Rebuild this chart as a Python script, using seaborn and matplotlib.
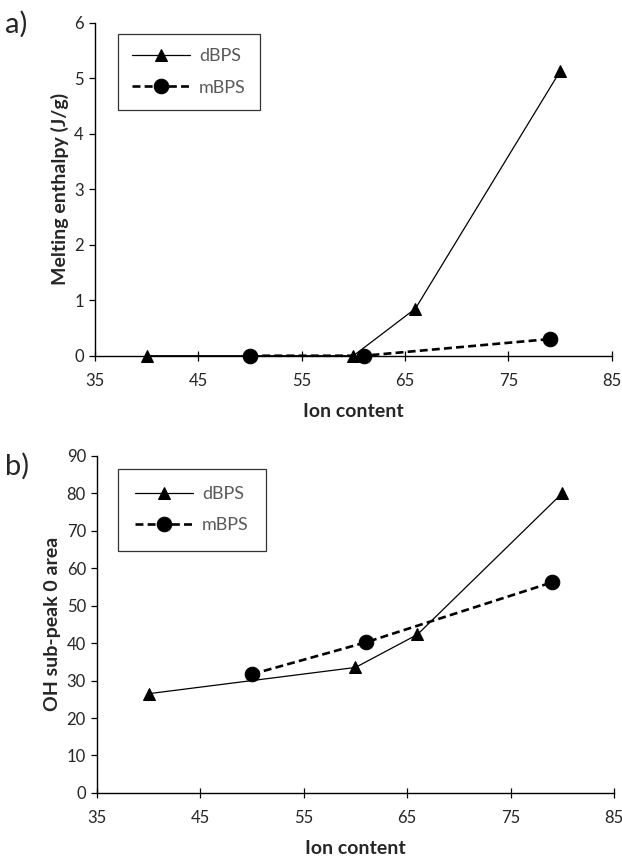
import matplotlib
matplotlib.use("Agg")
import matplotlib.pyplot as plt
import seaborn as sns

# Data
d_ion = [40, 60, 66, 80]
d_enthalpy = [0.0, 0.0, 0.85, 5.13]

m_ion = [50, 61, 79]
m_enthalpy = [0.0, 0.0, 0.3]

d_ion_b = [40, 60, 66, 80]
d_area = [26.5, 33.5, 42.3, 80.0]
m_area = [31.7, 40.2, 56.2]

xticks = [35, 45, 55, 65, 75, 85]

sns.set_theme(style="ticks")
plt.rcParams['font.family'] = ['Lato', 'DejaVu Sans']

fig = plt.figure(figsize=(6.22, 8.58), dpi=100)
ax1 = fig.add_axes([0.1527, 0.5854, 0.831, 0.388])
ax2 = fig.add_axes([0.156, 0.0758, 0.831, 0.393])


def draw(ax, dx, d_y, m_y, ylim, yticks, ylabel, leg_anchor, pad):
    sns.lineplot(x=dx, y=d_y, ax=ax, color="black", linewidth=0.9,
                 marker="^", markersize=9, markeredgecolor="black", label="dBPS")
    sns.lineplot(x=m_ion, y=m_y, ax=ax, color="black", linewidth=1.9,
                 linestyle=(0, (3, 1.6)), marker="o", markersize=10.5,
                 markeredgecolor="black", label="mBPS")
    ax.set_xlim(35, 85)
    ax.set_ylim(*ylim)
    ax.set_xticks(xticks)
    ax.set_yticks(yticks)
    ax.set_xlabel("Ion content", fontsize=14, fontweight="bold", labelpad=10)
    ax.set_ylabel(ylabel, fontsize=14, fontweight="bold", labelpad=4)
    ax.tick_params(labelsize=12, length=4, width=0.9, color="black", pad=4)
    ax.tick_params(axis="x", direction="inout", length=7, pad=9)
    for s in ["top", "right"]:
        ax.spines[s].set_visible(False)
    for s in ["left", "bottom"]:
        ax.spines[s].set_linewidth(1.0)
        ax.spines[s].set_color("black")
    leg = ax.legend(loc="upper left", bbox_to_anchor=leg_anchor,
                    fancybox=False, frameon=True, edgecolor="black",
                    fontsize=13, handlelength=3.2, labelspacing=0.85,
                    borderpad=pad, borderaxespad=0, handletextpad=0.5)
    leg.get_frame().set_linewidth(0.9)
    for t in leg.get_texts():
        t.set_color("#595959")
    for line in ax.get_lines():
        line.set_clip_on(False)


draw(ax1, d_ion, d_enthalpy, m_enthalpy, (0, 6), [0, 1, 2, 3, 4, 5, 6],
     "Melting enthalpy (J/g)", (0.044, 0.967), 0.8)
draw(ax2, d_ion_b, d_area, m_area, (0, 90), list(range(0, 91, 10)),
     "OH sub-peak 0 area", (0.041, 0.961), 0.95)

fig.text(0.008, 0.962, "a)", fontsize=21)
fig.text(0.008, 0.447, "b)", fontsize=21)

fig.savefig("out.png", dpi=100)
